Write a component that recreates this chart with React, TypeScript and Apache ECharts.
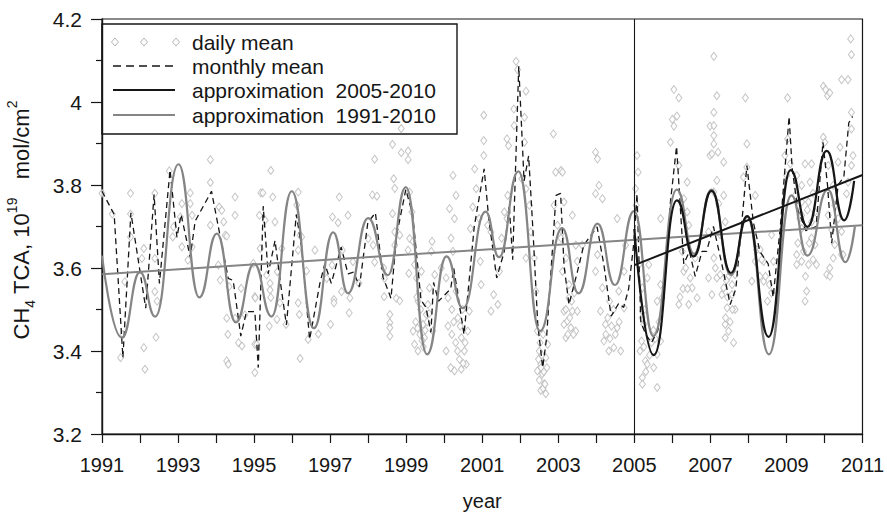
import React, { useEffect, useRef } from "react";
import * as echarts from "echarts";

// Axis ranges
const yearMin = 1991;
const yearMax = 2011;
const valueMin = 3.2;
const valueMax = 4.2;

// Daily mean total column amounts, [year, value]
const dailyMean: number[][] = [
  [1991.0, 3.78], [1991.27, 3.73], [1991.49, 3.384], [1991.55, 3.44], [1991.6, 3.567], [1991.75, 3.78], [1991.75, 3.73], [1991.75, 3.675],
  [1992.05, 3.623], [1992.1, 3.647], [1992.1, 3.408], [1992.13, 3.356], [1992.39, 3.78], [1992.39, 3.623], [1992.39, 3.543], [1992.42, 3.433], [1992.45, 3.52],
  [1992.77, 3.834], [1992.86, 3.675], [1992.88, 3.699], [1993.06, 3.723], [1993.1, 3.755], [1993.1, 3.651], [1993.26, 3.619], [1993.32, 3.781], [1993.32, 3.755],
  [1993.37, 3.727], [1993.37, 3.651], [1993.85, 3.861], [1993.85, 3.806], [1993.85, 3.703], [1994.06, 3.607], [1994.08, 3.747], [1994.11, 3.571], [1994.15, 3.739],
  [1994.2, 3.711], [1994.24, 3.679], [1994.28, 3.677], [1994.28, 3.479], [1994.28, 3.376], [1994.31, 3.44], [1994.32, 3.368], [1994.34, 3.555], [1994.5, 3.771],
  [1994.5, 3.727], [1994.5, 3.479], [1994.59, 3.42], [1994.66, 3.551], [1994.68, 3.412], [1994.76, 3.487], [1994.98, 3.611], [1995.02, 3.531], [1995.02, 3.416],
  [1995.02, 3.348], [1995.03, 3.528], [1995.07, 3.416], [1995.14, 3.727], [1995.16, 3.647], [1995.18, 3.781], [1995.23, 3.781], [1995.29, 3.715], [1995.33, 3.583],
  [1995.4, 3.46], [1995.42, 3.563], [1995.42, 3.547], [1995.44, 3.835], [1995.44, 3.529], [1995.49, 3.771], [1995.55, 3.711], [1995.6, 3.476], [1995.61, 3.591],
  [1995.68, 3.516], [1995.73, 3.647], [1995.84, 3.464], [1996.12, 3.752], [1996.16, 3.783], [1996.16, 3.643], [1996.16, 3.516], [1996.19, 3.488], [1996.21, 3.679],
  [1996.21, 3.382], [1996.25, 3.675], [1996.38, 3.593], [1996.42, 3.428], [1996.6, 3.643], [1996.69, 3.441], [1996.91, 3.575], [1997.01, 3.464], [1997.05, 3.607],
  [1997.06, 3.723], [1997.1, 3.524], [1997.1, 3.516], [1997.21, 3.709], [1997.24, 3.771], [1997.3, 3.543], [1997.32, 3.643], [1997.47, 3.727], [1997.5, 3.492],
  [1997.52, 3.528], [1997.6, 3.615], [1997.76, 3.563], [1998.0, 3.671], [1998.11, 3.776], [1998.13, 3.655], [1998.17, 3.862], [1998.17, 3.614], [1998.23, 3.773],
  [1998.41, 3.6], [1998.42, 3.531], [1998.43, 3.575], [1998.57, 3.488], [1998.57, 3.468], [1998.57, 3.456], [1998.57, 3.436], [1998.64, 3.898], [1998.64, 3.731],
  [1998.67, 3.815], [1998.7, 3.792], [1998.7, 3.687], [1998.7, 3.655], [1998.74, 3.527], [1998.83, 3.679], [1998.83, 3.521], [1998.87, 3.936], [1998.87, 3.878],
  [1999.05, 3.882], [1999.05, 3.861], [1999.05, 3.643], [1999.07, 3.587], [1999.09, 3.671], [1999.09, 3.783], [1999.15, 3.735], [1999.18, 3.664], [1999.18, 3.448],
  [1999.22, 3.608], [1999.22, 3.416], [1999.27, 3.576], [1999.31, 3.52], [1999.31, 3.4], [1999.35, 3.544], [1999.4, 3.592], [1999.44, 3.464], [1999.48, 3.432],
  [1999.53, 3.488], [1999.57, 3.512], [1999.61, 3.552], [1999.66, 3.64], [1999.68, 3.664], [1999.7, 3.448], [1999.75, 3.584], [1999.92, 3.6], [2000.05, 3.576],
  [2000.05, 3.4], [2000.1, 3.528], [2000.14, 3.743], [2000.17, 3.36], [2000.18, 3.672], [2000.23, 3.823], [2000.23, 3.64], [2000.27, 3.719], [2000.27, 3.352],
  [2000.31, 3.775], [2000.31, 3.544], [2000.36, 3.48], [2000.45, 3.432], [2000.45, 3.356], [2000.53, 3.4], [2000.58, 3.368], [2000.62, 3.448], [2000.66, 3.496],
  [2000.69, 3.695], [2000.75, 3.747], [2000.8, 3.839], [2000.84, 3.791], [2000.92, 3.719], [2000.95, 3.616], [2000.97, 3.56], [2001.04, 3.968], [2001.04, 3.907],
  [2001.04, 3.871], [2001.14, 3.703], [2001.23, 3.687], [2001.23, 3.496], [2001.3, 3.536], [2001.41, 3.512], [2001.45, 3.592], [2001.51, 3.672], [2001.58, 3.735],
  [2001.65, 3.911], [2001.65, 3.719], [2001.67, 3.775], [2001.69, 3.895], [2001.83, 3.983], [2001.84, 3.943], [2001.89, 4.098], [2001.93, 4.078], [2002.04, 3.815],
  [2002.11, 3.963], [2002.11, 3.903], [2002.15, 4.026], [2002.15, 3.791], [2002.15, 3.624], [2002.24, 3.751], [2002.28, 3.687], [2002.37, 3.624], [2002.41, 3.544],
  [2002.45, 3.448], [2002.45, 3.352], [2002.5, 3.4], [2002.54, 3.368], [2002.54, 3.305], [2002.58, 3.345], [2002.63, 3.321], [2002.67, 3.297], [2002.67, 3.384],
  [2002.72, 3.416], [2002.87, 3.923], [2002.89, 3.751], [2002.93, 3.831], [2002.98, 3.703], [2003.07, 3.835], [2003.07, 3.672], [2003.11, 3.592], [2003.11, 3.831],
  [2003.11, 3.687], [2003.15, 3.496], [2003.15, 3.464], [2003.15, 3.759], [2003.2, 3.624], [2003.2, 3.432], [2003.24, 3.472], [2003.28, 3.528], [2003.33, 3.456],
  [2003.37, 3.496], [2003.37, 3.727], [2003.46, 3.448], [2003.46, 3.655], [2003.5, 3.496], [2003.5, 3.616], [2003.63, 3.655], [2003.98, 3.879], [2003.98, 3.779],
  [2003.98, 3.592], [2004.03, 3.863], [2004.03, 3.632], [2004.07, 3.799], [2004.11, 3.496], [2004.16, 3.767], [2004.16, 3.552], [2004.2, 3.424], [2004.24, 3.464],
  [2004.33, 3.4], [2004.46, 3.408], [2004.55, 3.456], [2004.55, 3.719], [2004.59, 3.544], [2004.64, 3.4], [2004.73, 3.592], [2004.73, 3.504], [2004.77, 3.655],
  [2005.03, 3.791], [2005.05, 3.751], [2005.07, 3.871], [2005.1, 3.831], [2005.12, 3.608], [2005.19, 3.424], [2005.21, 3.552], [2005.21, 3.496], [2005.21, 3.336],
  [2005.21, 3.32], [2005.25, 3.464], [2005.29, 3.376], [2005.34, 3.368], [2005.34, 3.576], [2005.38, 3.608], [2005.51, 3.36], [2005.6, 3.312], [2005.6, 3.392],
  [2005.69, 3.424], [2005.69, 3.56], [2005.69, 3.719], [2005.73, 3.528], [2005.95, 3.903], [2006.0, 3.958], [2006.04, 4.03], [2006.04, 3.942], [2006.12, 3.966],
  [2006.17, 4.01], [2006.17, 3.847], [2006.17, 3.512], [2006.26, 3.64], [2006.3, 3.767], [2006.3, 3.592], [2006.39, 3.807], [2006.39, 3.735], [2006.43, 3.703],
  [2006.43, 3.512], [2006.47, 3.576], [2006.52, 3.552], [2006.6, 3.624], [2006.65, 3.528], [2006.95, 3.687], [2006.95, 3.576], [2006.99, 3.942], [2006.99, 3.871],
  [2007.04, 3.875], [2007.04, 3.536], [2007.09, 4.11], [2007.09, 3.975], [2007.09, 3.943], [2007.09, 3.919], [2007.09, 3.899], [2007.09, 3.783], [2007.09, 3.624],
  [2007.13, 3.6], [2007.17, 4.015], [2007.17, 3.811], [2007.17, 3.576], [2007.2, 3.879], [2007.22, 3.755], [2007.26, 3.68], [2007.26, 3.584], [2007.3, 3.536],
  [2007.35, 3.855], [2007.35, 3.775], [2007.35, 3.552], [2007.39, 3.711], [2007.39, 3.464], [2007.39, 3.432], [2007.44, 3.504], [2007.48, 3.58], [2007.48, 3.448],
  [2007.57, 3.56], [2007.57, 3.536], [2007.61, 3.42], [2007.65, 3.584], [2007.65, 3.5], [2007.87, 3.819], [2007.92, 4.01], [2007.96, 3.899], [2007.96, 3.843],
  [2008.09, 3.568], [2008.18, 3.775], [2008.18, 3.616], [2008.22, 3.644], [2008.31, 3.644], [2008.4, 3.616], [2008.4, 3.568], [2008.61, 3.54], [2008.61, 3.68],
  [2008.66, 3.616], [2008.96, 3.871], [2009.01, 3.823], [2009.03, 4.01], [2009.03, 3.911], [2009.1, 3.851], [2009.23, 3.775], [2009.27, 3.823], [2009.27, 3.632],
  [2009.27, 3.608], [2009.4, 3.799], [2009.4, 3.759], [2009.4, 3.727], [2009.4, 3.695], [2009.4, 3.616], [2009.49, 3.851], [2009.49, 3.52], [2009.53, 3.544],
  [2009.58, 3.759], [2009.58, 3.608], [2009.62, 3.807], [2009.66, 3.851], [2009.66, 3.711], [2009.66, 3.672], [2009.75, 3.735], [2009.75, 3.656], [2009.79, 3.608],
  [2009.97, 4.038], [2009.97, 3.915], [2010.01, 3.903], [2010.03, 4.03], [2010.06, 3.584], [2010.08, 4.015], [2010.1, 3.847], [2010.1, 3.727], [2010.14, 4.022],
  [2010.14, 3.6], [2010.14, 3.58], [2010.19, 3.692], [2010.23, 3.799], [2010.23, 3.624], [2010.27, 3.751], [2010.27, 3.656], [2010.36, 3.855], [2010.36, 3.719],
  [2010.41, 3.891], [2010.45, 4.054], [2010.45, 3.688], [2010.45, 3.632], [2010.49, 3.632], [2010.58, 3.779], [2010.62, 4.054], [2010.62, 3.807], [2010.69, 4.152],
  [2010.71, 4.114], [2010.71, 3.975], [2010.71, 3.935], [2010.71, 3.847], [2010.75, 3.871],
  [1999.25, 3.47], [1999.3, 3.455], [1999.36, 3.44], [1999.42, 3.425], [1999.45, 3.41], [1999.5, 3.45], [1999.38, 3.5], [1999.28, 3.53], [1999.55, 3.47], [1999.6, 3.49],
  [2000.2, 3.44], [2000.25, 3.47], [2000.3, 3.42], [2000.35, 3.4], [2000.4, 3.38], [2000.42, 3.46], [2000.5, 3.37], [2000.55, 3.42], [2000.48, 3.5], [2000.2, 3.5], [2000.1, 3.46],
  [2002.5, 3.33], [2002.55, 3.36], [2002.6, 3.31], [2002.62, 3.35], [2002.65, 3.32], [2002.57, 3.39], [2002.52, 3.42], [2002.6, 3.44], [2002.48, 3.38], [2002.7, 3.36],
  [2003.2, 3.5], [2003.25, 3.44], [2003.3, 3.48], [2003.35, 3.52], [2003.4, 3.44], [2003.42, 3.54], [2003.28, 3.56],
  [2004.25, 3.44], [2004.3, 3.48], [2004.36, 3.43], [2004.4, 3.46], [2004.45, 3.5], [2004.5, 3.44], [2004.6, 3.47], [2004.35, 3.52],
  [2005.15, 3.4], [2005.25, 3.41], [2005.3, 3.35], [2005.4, 3.39], [2005.45, 3.42], [2005.5, 3.45], [2005.55, 3.43], [2005.65, 3.47], [2005.27, 3.5], [2005.2, 3.48], [2005.6, 3.52],
  [2006.2, 3.53], [2006.28, 3.55], [2006.35, 3.6], [2006.4, 3.55],
  [2007.4, 3.48], [2007.45, 3.53], [2007.52, 3.47], [2007.58, 3.5], [2007.42, 3.57],
  [2008.3, 3.58], [2008.45, 3.58], [2008.5, 3.52], [2008.55, 3.56], [2008.35, 3.62],
  [2009.3, 3.66], [2009.45, 3.64], [2009.5, 3.58], [2009.6, 3.66], [2009.7, 3.62], [2009.35, 3.72], [2009.55, 3.74], [2009.7, 3.78],
];

// Monthly mean, [year, value]
const monthlyMean: number[][] = [
  [1991.0, 3.785], [1991.32, 3.729], [1991.55, 3.384], [1991.76, 3.733], [1992.15, 3.503], [1992.37, 3.777], [1992.51, 3.563], [1992.79, 3.836],
  [1992.97, 3.674], [1993.08, 3.729], [1993.32, 3.626], [1993.45, 3.713], [1993.88, 3.785], [1994.32, 3.575], [1994.45, 3.57], [1994.65, 3.436],
  [1994.8, 3.495], [1995.02, 3.495], [1995.11, 3.36], [1995.24, 3.749], [1995.37, 3.586], [1995.55, 3.666], [1995.7, 3.56], [1995.85, 3.463],
  [1996.11, 3.729], [1996.25, 3.65], [1996.46, 3.428], [1996.73, 3.563], [1996.86, 3.61], [1997.03, 3.563], [1997.29, 3.65], [1997.47, 3.586],
  [1997.62, 3.59], [1997.77, 3.555], [1997.99, 3.709], [1998.19, 3.733], [1998.39, 3.578], [1998.6, 3.527], [1998.75, 3.68], [1998.99, 3.789],
  [1999.17, 3.729], [1999.39, 3.523], [1999.52, 3.505], [1999.65, 3.445], [1999.72, 3.565], [1999.85, 3.52], [2000.17, 3.55], [2000.25, 3.6],
  [2000.52, 3.44], [2000.79, 3.7], [2001.05, 3.839], [2001.17, 3.72], [2001.38, 3.576], [2001.58, 3.64], [2001.71, 3.751], [2001.8, 3.62],
  [2001.96, 4.086], [2002.1, 3.81], [2002.22, 3.87], [2002.34, 3.68], [2002.46, 3.464], [2002.59, 3.36], [2002.69, 3.43], [2002.94, 3.775],
  [2003.06, 3.78], [2003.15, 3.607], [2003.28, 3.512], [2003.5, 3.59], [2003.67, 3.655], [2004.02, 3.699], [2004.2, 3.607], [2004.39, 3.484],
  [2004.59, 3.515], [2004.72, 3.505], [2004.85, 3.55], [2004.98, 3.655], [2005.07, 3.779], [2005.17, 3.47], [2005.3, 3.44], [2005.45, 3.42],
  [2005.62, 3.45], [2005.8, 3.56], [2005.95, 3.76], [2006.11, 3.893], [2006.2, 3.76], [2006.3, 3.61], [2006.45, 3.64], [2006.6, 3.58],
  [2006.78, 3.64], [2006.9, 3.64], [2007.08, 3.7], [2007.3, 3.61], [2007.52, 3.512], [2007.67, 3.55], [2007.96, 3.847], [2008.13, 3.71],
  [2008.3, 3.64], [2008.52, 3.61], [2008.65, 3.53], [2008.84, 3.7], [2009.07, 3.965], [2009.15, 3.84], [2009.3, 3.74], [2009.51, 3.69],
  [2009.78, 3.7], [2009.96, 3.903], [2010.08, 3.8], [2010.19, 3.66], [2010.36, 3.8], [2010.51, 3.82], [2010.64, 3.95], [2010.74, 3.965],
];

// Harmonic approximation over 1991-2010: successive maxima and minima
const approx1991: number[][] = [
  [1991.0, 3.63], [1991.52, 3.432], [1992.0, 3.59], [1992.4, 3.483], [1993.01, 3.85], [1993.56, 3.529], [1994.02, 3.683], [1994.52, 3.469],
  [1995.0, 3.61], [1995.46, 3.483], [1995.99, 3.785], [1996.57, 3.455], [1997.08, 3.686], [1997.47, 3.539], [1998.0, 3.72], [1998.52, 3.583],
  [1998.99, 3.795], [1999.55, 3.392], [2000.06, 3.628], [2000.49, 3.503], [2001.09, 3.736], [2001.44, 3.626], [2001.95, 3.833], [2002.52, 3.448],
  [2003.1, 3.696], [2003.53, 3.539], [2004.03, 3.707], [2004.49, 3.559], [2004.99, 3.737], [2005.5, 3.436], [2006.12, 3.789], [2006.57, 3.634],
  [2007.03, 3.789], [2007.54, 3.583], [2007.97, 3.723], [2008.54, 3.392], [2009.13, 3.775], [2009.55, 3.63], [2010.09, 3.789], [2010.55, 3.614],
  [2010.8, 3.7],
];

// Harmonic approximation over 2005-2010: successive maxima and minima
const approx2005: number[][] = [
  [2005.0, 3.694], [2005.51, 3.39], [2006.12, 3.763], [2006.56, 3.628], [2007.03, 3.786], [2007.54, 3.588], [2007.97, 3.725], [2008.53, 3.434],
  [2009.11, 3.836], [2009.55, 3.699], [2010.06, 3.882], [2010.52, 3.715], [2010.78, 3.81],
];

// Linear trends
const trend1991: number[][] = [[1991, 3.585], [2011, 3.703]];
const trend2005: number[][] = [[2005, 3.607], [2011, 3.824]];

const legendLabels = ["daily mean", "monthly mean", "approximation  2005-2010", "approximation  1991-2010"];

const FONT = "'Liberation Sans', Arial, Helvetica, sans-serif";
const INK = "#161616";
const GRAY_LINE = "#858585";
const GRAY_DOT = "#b5b5b5";

export default function App() {
  const ref = useRef<HTMLDivElement>(null);

  useEffect(() => {
    if (!ref.current) return;
    const chart = echarts.init(ref.current, undefined, { renderer: "svg" });

    const rowY = [42, 66, 90, 115];
    const diamond = (cx: number, cy: number) => ({
      type: "polygon",
      shape: { points: [[cx, cy - 4], [cx + 3.5, cy], [cx, cy + 4], [cx - 3.5, cy]] },
      style: { fill: "#fff", stroke: GRAY_DOT, lineWidth: 1 },
    });

    chart.setOption({
      animation: false,
      backgroundColor: "#fff",
      grid: {
        left: 102, right: 23, top: 19, bottom: 77,
        show: true, borderColor: INK, borderWidth: 1.2, backgroundColor: "transparent",
      },
      xAxis: {
        type: "value",
        min: yearMin, max: yearMax, interval: 1,
        name: "year", nameLocation: "middle", nameGap: 57,
        nameTextStyle: { fontFamily: FONT, fontSize: 20, color: INK },
        axisLine: { show: true, lineStyle: { color: INK, width: 1.4 } },
        axisTick: { show: true, inside: false, length: 9, lineStyle: { color: INK, width: 1.2 } },
        axisLabel: {
          margin: 21, fontFamily: FONT, fontSize: 20, color: INK,
          formatter: (v: number) => ((v - yearMin) % 2 === 0 ? String(v) : ""),
        },
        splitLine: { show: false },
      },
      yAxis: {
        type: "value",
        min: valueMin, max: valueMax, interval: 0.2,
        axisLine: { show: true, lineStyle: { color: INK, width: 1.4 } },
        axisTick: { show: true, inside: false, length: 11, lineStyle: { color: INK, width: 1.2 } },
        minorTick: { show: true, splitNumber: 2, length: 6, lineStyle: { color: INK, width: 1.2 } },
        axisLabel: {
          margin: 20, fontFamily: FONT, fontSize: 21, color: INK,
          formatter: (v: number) => String(Math.round(v * 10) / 10),
        },
        splitLine: { show: false },
        minorSplitLine: { show: false },
      },
      series: [
        {
          name: "daily mean",
          type: "scatter",
          data: dailyMean,
          symbol: "diamond",
          symbolSize: [6, 8],
          itemStyle: { color: "#fff", borderColor: GRAY_DOT, borderWidth: 1 },
          z: 1,
        },
        {
          name: "monthly mean",
          type: "line",
          data: monthlyMean,
          showSymbol: false,
          lineStyle: { color: INK, width: 1.3, type: [6, 4] },
          z: 2,
          markLine: {
            silent: true,
            symbol: "none",
            label: { show: false },
            lineStyle: { color: INK, width: 1.1, type: "solid" },
            data: [{ xAxis: 2005 }],
          },
        },
        {
          name: "approximation  1991-2010",
          type: "line",
          data: approx1991,
          showSymbol: false,
          smooth: 0.5,
          smoothMonotone: "x",
          lineStyle: { color: GRAY_LINE, width: 2.2 },
          z: 3,
        },
        {
          name: "trend 1991-2010",
          type: "line",
          data: trend1991,
          showSymbol: false,
          lineStyle: { color: GRAY_LINE, width: 2 },
          z: 3,
        },
        {
          name: "approximation  2005-2010",
          type: "line",
          data: approx2005,
          showSymbol: false,
          smooth: 0.5,
          smoothMonotone: "x",
          lineStyle: { color: INK, width: 2.2 },
          z: 4,
        },
        {
          name: "trend 2005-2010",
          type: "line",
          data: trend2005,
          showSymbol: false,
          lineStyle: { color: INK, width: 2 },
          z: 4,
        },
      ],
      graphic: [
        {
          type: "text",
          x: 21,
          y: 220,
          rotation: Math.PI / 2,
          style: {
            text: "{a|CH}{s|4}{a| TCA, 10}{p|19}{a|   mol/cm}{p|2}",
            align: "center",
            verticalAlign: "middle",
            rich: {
              a: { fontFamily: FONT, fontSize: 22, fill: INK, color: INK, lineHeight: 32, verticalAlign: "middle" },
              s: { fontFamily: FONT, fontSize: 14, fill: INK, color: INK, lineHeight: 19, verticalAlign: "bottom" },
              p: { fontFamily: FONT, fontSize: 14, fill: INK, color: INK, lineHeight: 17, verticalAlign: "top" },
            },
          },
        },
        {
          type: "group",
          z: 100,
          children: [
            {
              type: "rect",
              shape: { x: 102, y: 24, width: 355, height: 110 },
              style: { fill: "#fff", stroke: INK, lineWidth: 1.4 },
            },
            diamond(115, rowY[0]),
            diamond(144, rowY[0]),
            diamond(176, rowY[0]),
            {
              type: "line",
              shape: { x1: 113, y1: rowY[1], x2: 175, y2: rowY[1] },
              style: { stroke: INK, lineWidth: 1.3, lineDash: [8, 5] },
            },
            {
              type: "line",
              shape: { x1: 113, y1: rowY[2], x2: 175, y2: rowY[2] },
              style: { stroke: INK, lineWidth: 2.2 },
            },
            {
              type: "line",
              shape: { x1: 113, y1: rowY[3], x2: 175, y2: rowY[3] },
              style: { stroke: GRAY_LINE, lineWidth: 2.2 },
            },
            ...legendLabels.map((t, i) => ({
              type: "text",
              x: 192,
              y: rowY[i],
              style: {
                text: t, fill: INK, font: `21px ${FONT}`,
                fontFamily: FONT, fontSize: 21,
                align: "left", verticalAlign: "middle",
              },
            })),
          ],
        },
      ],
    });

    return () => chart.dispose();
  }, []);

  return (
    <div
      ref={ref}
      style={{ position: "fixed", left: 0, top: 0, width: 887, height: 516 }}
    />
  );
}
